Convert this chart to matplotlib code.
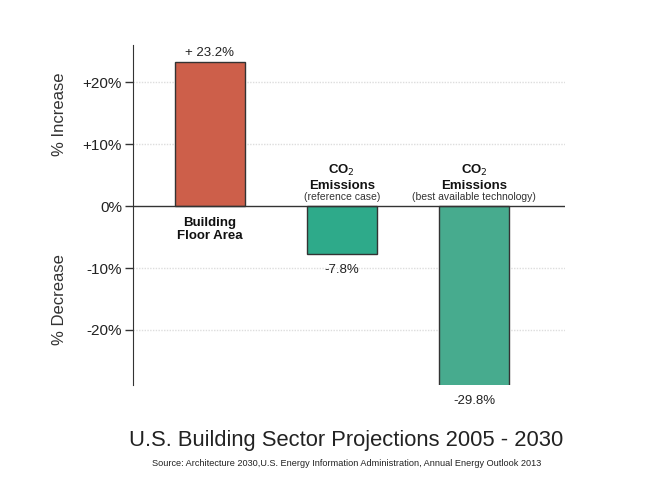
import matplotlib
matplotlib.use('Agg')
import matplotlib.pyplot as plt

plt.rcParams['font.family'] = ['Liberation Sans', 'DejaVu Sans']

# data
categories = ['Building\nFloor Area', 'CO$_2$\nEmissions', 'CO$_2$\nEmissions']
notes = ['', '(reference case)', '(best available technology)']
changes = [23.2, -7.8, -29.8]
value_labels = ['+ 23.2%', '-7.8%', '-29.8%']
bar_colors = ['#CD5F4A', '#2EAA8A', '#47AB8E']
ytick_vals = [-20, -10, 0, 10, 20]
ytick_text = ['-20%', '-10%', '0%', '+10%', '+20%']

fig = plt.figure(figsize=(6.6, 4.95), dpi=100)
ax = fig.add_axes([0.2015, 0.222, 0.655, 0.687])

x = list(range(len(changes)))
ax.bar(x, changes, width=0.53, color=bar_colors, edgecolor='#333333', linewidth=1, zorder=3)

ax.set_xlim(-0.58, 2.69)
ax.set_ylim(-28.9, 26)
ybottom = ax.get_ylim()[0]

for v in [-20, -10, 10, 20]:
    ax.axhline(v, color='#dddddd', linewidth=1, linestyle=(0, (1, 1)), zorder=1)
ax.axhline(0, color='#333333', linewidth=1, zorder=4)

ax.set_yticks(ytick_vals)
ax.set_yticklabels(ytick_text, fontsize=11, color='#222222')
ax.tick_params(axis='y', direction='out', length=6, width=1, color='#333333', pad=2)
ax.set_xticks([])

for side in ['top', 'right', 'bottom']:
    ax.spines[side].set_visible(False)
ax.spines['left'].set_color('#333333')

# value labels
ax.text(x[0], changes[0] + 0.6, value_labels[0], ha='center', va='bottom', fontsize=9.5, color='#222222')
for i in (1, 2):
    ax.text(x[i], max(changes[i], ybottom) - 1.6, value_labels[i], ha='center', va='top',
            fontsize=9.5, color='#222222', clip_on=False)

# category labels
ax.text(x[0], -1.7, categories[0], ha='center', va='top', fontsize=9.5, fontweight='bold',
        linespacing=1.2, color='#111111')
for i in (1, 2):
    ax.text(x[i], 2.3, categories[i], ha='center', va='bottom', fontsize=9.5, fontweight='bold',
            linespacing=1.15, color='#111111')
    ax.text(x[i], 0.6, notes[i], ha='center', va='bottom', fontsize=7.5, color='#333333')

# axis side labels
fig.text(0.09, 0.77, '% Increase', rotation=90, ha='center', va='center', fontsize=12, color='#333333')
fig.text(0.09, 0.395, '% Decrease', rotation=90, ha='center', va='center', fontsize=12, color='#333333')

fig.text(0.525, 0.11, 'U.S. Building Sector Projections 2005 - 2030', ha='center', va='center',
         fontsize=15.8, color='#222222')
fig.text(0.525, 0.063, 'Source: Architecture 2030,U.S. Energy Information Administration, Annual Energy Outlook 2013',
         ha='center', va='center', fontsize=6.6, color='#222222')

fig.savefig('out.png', dpi=100)
